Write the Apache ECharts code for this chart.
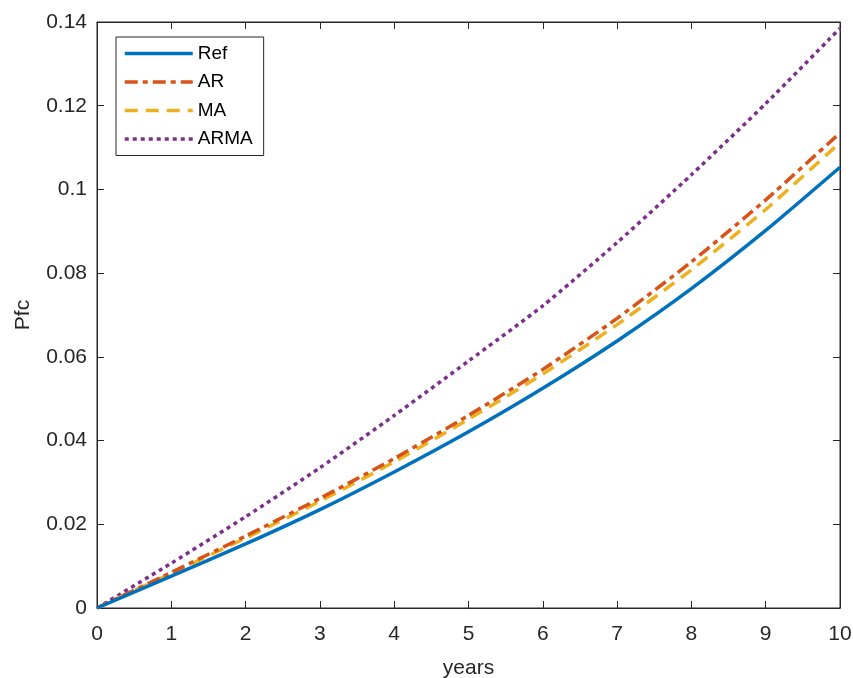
<!DOCTYPE html>
<html>
<head>
<meta charset="utf-8">
<script src="https://cdn.jsdelivr.net/npm/echarts@6/dist/echarts.min.js"></script>
<style>html,body{margin:0;padding:0;background:#fff;}#c{width:853px;height:678px;}</style>
</head>
<body>
<div id="c"></div>
<script>
const years = [0, 1, 2, 3, 4, 5, 6, 7, 8, 9, 10];
const refData  = [0, 0.0076, 0.0153, 0.0235, 0.0325, 0.0421, 0.0525, 0.0638, 0.0763, 0.0902, 0.1053];
const arData   = [0, 0.0085, 0.0172, 0.0262, 0.0357, 0.0460, 0.0570, 0.0692, 0.0827, 0.0975, 0.1135];
const maData   = [0, 0.0083, 0.0167, 0.0255, 0.0349, 0.0451, 0.0559, 0.0677, 0.0808, 0.0952, 0.1112];
const armaData = [0, 0.0107, 0.0218, 0.0335, 0.0460, 0.0590, 0.0722, 0.0873, 0.1035, 0.1205, 0.1385];
const seriesNames = ['Ref', 'AR', 'MA', 'ARMA'];
const colors = ['#0072BD', '#D95319', '#EDB120', '#7E2F8E'];
const dashes = ['solid', [13, 5, 5, 5], [13, 8], [4, 4]];
const allData = [refData, arData, maData, armaData];

const FONT = 'Liberation Sans, Arial, sans-serif';
const axisColor = '#262626';

const chart = echarts.init(document.getElementById('c'), null, {renderer: 'canvas'});
const tick = {show: true, inside: true, length: 7, lineStyle: {color: axisColor, width: 1}};
const option = {
  backgroundColor: '#ffffff',
  animation: false,
  grid: {left: 97, right: 13, top: 22, bottom: 70, containLabel: false, outerBoundsMode: 'none',
         show: true, borderColor: axisColor, borderWidth: 1, backgroundColor: 'transparent'},
  legend: {
    left: 116, top: 37,
    orient: 'vertical',
    padding: [7, 11, 7, 7],
    itemWidth: 68, itemHeight: 14,
    itemGap: 9.5,
    borderColor: axisColor, borderWidth: 1,
    backgroundColor: '#fff',
    itemStyle: {opacity: 0},
    lineStyle: {width: 3.5},
    textStyle: {fontFamily: FONT, fontSize: 19, color: '#000'},
    data: seriesNames
  },
  xAxis: [{
    type: 'value', min: 0, max: 10, interval: 1,
    name: 'years', nameLocation: 'middle', nameGap: 50,
    nameTextStyle: {fontFamily: FONT, fontSize: 21, color: axisColor},
    axisLine: {show: true, onZero: false, lineStyle: {color: axisColor, width: 1}},
    axisTick: tick,
    axisLabel: {fontFamily: FONT, fontSize: 21, color: axisColor, margin: 16},
    splitLine: {show: false}
  }, {
    type: 'value', min: 0, max: 10, interval: 1, position: 'top',
    axisLine: {show: true, onZero: false, lineStyle: {color: axisColor, width: 1}},
    axisTick: tick,
    axisLabel: {show: false}, splitLine: {show: false}
  }],
  yAxis: [{
    type: 'value', min: 0, max: 0.14, interval: 0.02,
    name: 'Pfc', nameLocation: 'middle', nameGap: 63, nameRotate: 90,
    nameTextStyle: {fontFamily: FONT, fontSize: 21, color: axisColor},
    axisLine: {show: true, onZero: false, lineStyle: {color: axisColor, width: 1}},
    axisTick: tick,
    axisLabel: {fontFamily: FONT, fontSize: 21, color: axisColor, margin: 10,
      formatter: v => (Math.round(v * 100) / 100).toString()},
    splitLine: {show: false}
  }, {
    type: 'value', min: 0, max: 0.14, interval: 0.02, position: 'right',
    axisLine: {show: true, onZero: false, lineStyle: {color: axisColor, width: 1}},
    axisTick: tick,
    axisLabel: {show: false}, splitLine: {show: false}
  }],
  series: seriesNames.map((name, i) => ({
    name: name,
    type: 'line',
    data: years.map((y, j) => [y, allData[i][j]]),
    showSymbol: false, symbol: 'none',
    smooth: 0.2,
    color: colors[i],
    itemStyle: {color: colors[i]},
    lineStyle: {color: colors[i], width: 3.5, type: dashes[i], cap: 'butt'},
    z: 10 - i
  }))
};
chart.setOption(option);
</script>
</body>
</html>
